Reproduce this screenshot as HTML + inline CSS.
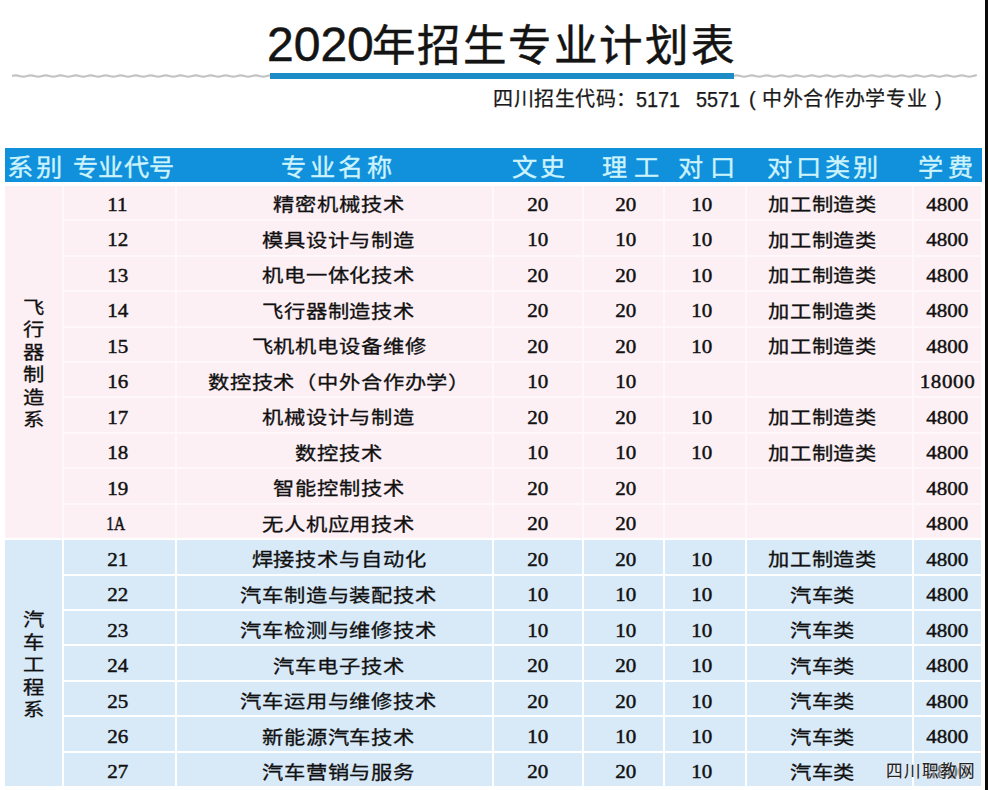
<!DOCTYPE html>
<html lang="zh-CN"><head><meta charset="utf-8"><title>2020年招生专业计划表</title>
<style>
html,body{margin:0;padding:0;overflow:hidden}
body{width:988px;height:790px;position:relative;overflow:hidden;background:#fff;font-family:"Liberation Serif",serif;color:#111}
.a{position:absolute}
.strip{left:984.5px;top:0;width:3.5px;height:790px;background:#0b0b0b}
.title{font-family:"Liberation Sans",sans-serif;font-size:45px;line-height:54px;color:#141414;white-space:nowrap}
.td{font-size:48px;-webkit-text-stroke:.5px #141414}
.tc{font-size:43.5px;letter-spacing:2.6px;-webkit-text-stroke:.5px #141414}
.gl{height:2px;top:75px;background:#c9c9c9}
.bl{left:270px;width:464px;top:73px;height:6px;background:#1c8bc6}
.sub{-webkit-text-stroke:.25px #1a1a1a;top:86px;height:26px;line-height:26px;font-family:"Liberation Sans",sans-serif;font-size:20px;color:#1a1a1a;white-space:nowrap}
.sd{font-size:21.2px;transform:scaleX(.937);transform-origin:0 50%;top:87px}
.hd{left:5px;top:148px;width:976.6px;height:33.5px;background:#1190dc}
.ht{top:151.3px;height:34px;line-height:34px;font-family:"Liberation Sans",sans-serif;font-size:24px;color:#cdf3fc;white-space:nowrap;transform:scaleX(1.05);transform-origin:0 50%;-webkit-text-stroke:.35px #cdf3fc}
.p{background:#fdf0f5}
.b{background:#d8e9f8}
.t{height:33px;line-height:33px;width:0;white-space:nowrap;display:flex;justify-content:center}
.t span{flex:none}
.n{font-size:19.3px}
.n span{transform:scaleX(1.09);-webkit-text-stroke:.45px #111}
.c{font-size:18.5px}
.c span{transform:scaleX(1.15);-webkit-text-stroke:.3px #111}
.v{left:14px;width:40px;text-align:center;font-size:17.8px;line-height:22.5px;transform:scaleX(1.2);-webkit-text-stroke:.3px #111}
.wm{left:886px;top:761px;font-size:16.6px;line-height:22px;color:#222;letter-spacing:.95px;-webkit-text-stroke:.15px #222;text-shadow:0 0 2px #fff,0 0 1px #fff;white-space:nowrap;font-family:"Liberation Serif",serif}
</style></head>
<body>
<div class="a title td" style="left:267px;top:18px">2020</div>
<div class="a title tc" style="left:371.5px;top:18.5px">年招生专业计划表</div>
<svg class="a" style="left:12px;top:73px" width="259" height="6" viewBox="0 0 259 6"><path d="M0 3 Q3.8 1.9 7.5 3 Q11.2 4.1 15.0 3 Q18.8 1.9 22.5 3 Q26.2 4.1 30.0 3 Q33.8 1.9 37.5 3 Q41.2 4.1 45.0 3 Q48.8 1.9 52.5 3 Q56.2 4.1 60.0 3 Q63.8 1.9 67.5 3 Q71.2 4.1 75.0 3 Q78.8 1.9 82.5 3 Q86.2 4.1 90.0 3 Q93.8 1.9 97.5 3 Q101.2 4.1 105.0 3 Q108.8 1.9 112.5 3 Q116.2 4.1 120.0 3 Q123.8 1.9 127.5 3 Q131.2 4.1 135.0 3 Q138.8 1.9 142.5 3 Q146.2 4.1 150.0 3 Q153.8 1.9 157.5 3 Q161.2 4.1 165.0 3 Q168.8 1.9 172.5 3 Q176.2 4.1 180.0 3 Q183.8 1.9 187.5 3 Q191.2 4.1 195.0 3 Q198.8 1.9 202.5 3 Q206.2 4.1 210.0 3 Q213.8 1.9 217.5 3 Q221.2 4.1 225.0 3 Q228.8 1.9 232.5 3 Q236.2 4.1 240.0 3 Q243.8 1.9 247.5 3 Q251.2 4.1 255.0 3 Q258.8 1.9 259.0 3" fill="none" stroke="#c3c3c3" stroke-width="2.2"/></svg>
<svg class="a" style="left:733px;top:73px" width="244" height="6" viewBox="0 0 244 6"><path d="M0 3 Q3.8 1.9 7.5 3 Q11.2 4.1 15.0 3 Q18.8 1.9 22.5 3 Q26.2 4.1 30.0 3 Q33.8 1.9 37.5 3 Q41.2 4.1 45.0 3 Q48.8 1.9 52.5 3 Q56.2 4.1 60.0 3 Q63.8 1.9 67.5 3 Q71.2 4.1 75.0 3 Q78.8 1.9 82.5 3 Q86.2 4.1 90.0 3 Q93.8 1.9 97.5 3 Q101.2 4.1 105.0 3 Q108.8 1.9 112.5 3 Q116.2 4.1 120.0 3 Q123.8 1.9 127.5 3 Q131.2 4.1 135.0 3 Q138.8 1.9 142.5 3 Q146.2 4.1 150.0 3 Q153.8 1.9 157.5 3 Q161.2 4.1 165.0 3 Q168.8 1.9 172.5 3 Q176.2 4.1 180.0 3 Q183.8 1.9 187.5 3 Q191.2 4.1 195.0 3 Q198.8 1.9 202.5 3 Q206.2 4.1 210.0 3 Q213.8 1.9 217.5 3 Q221.2 4.1 225.0 3 Q228.8 1.9 232.5 3 Q236.2 4.1 240.0 3 Q243.8 1.9 244.0 3" fill="none" stroke="#c3c3c3" stroke-width="2.2"/></svg>
<div class="a bl"></div>
<div class="a sub" style="left:493px;letter-spacing:.55px">四川招生代码：</div>
<div class="a sub sd" style="left:636px">5171</div>
<div class="a sub sd" style="left:696px">5571</div>
<div class="a sub" style="left:749px">(</div>
<div class="a sub" style="left:762px;letter-spacing:.7px">中外合作办学专业</div>
<div class="a sub" style="left:935px">)</div>
<div class="a hd"></div>
<div class="a" style="left:5px;width:976px;top:186px;height:352.10px;background:#fff8fa"></div>
<div class="a ht" style="left:7.0px;letter-spacing:2.1px;transform:scaleX(1.1)">系别</div>
<div class="a ht" style="left:73.45px;letter-spacing:0.22px">专业代号</div>
<div class="a ht" style="left:280.95px;letter-spacing:3.16px">专业名称</div>
<div class="a ht" style="left:511.55px;letter-spacing:2.3px">文史</div>
<div class="a ht" style="left:601.65px;letter-spacing:6.1px">理工</div>
<div class="a ht" style="left:678.05px;letter-spacing:6.1px">对口</div>
<div class="a ht" style="left:766.85px;letter-spacing:3.43px">对口类别</div>
<div class="a ht" style="left:917.55px;letter-spacing:4.1px">学费</div>
<div class="a p" style="left:5px;width:57px;top:186px;height:352.10px"></div>
<div class="a b" style="left:5px;width:57px;top:540.10px;height:246.01px"></div>
<!-- row 11 -->
<div class="a p" style="left:64px;width:111px;top:186.00px;height:33.23px"></div>
<div class="a p" style="left:177px;width:315px;top:186.00px;height:33.23px"></div>
<div class="a p" style="left:494px;width:88px;top:186.00px;height:33.23px"></div>
<div class="a p" style="left:584px;width:79px;top:186.00px;height:33.23px"></div>
<div class="a p" style="left:665px;width:80px;top:186.00px;height:33.23px"></div>
<div class="a p" style="left:747px;width:165px;top:186.00px;height:33.23px"></div>
<div class="a p" style="left:914px;width:67.39999999999998px;top:186.00px;height:33.23px"></div>
<div class="a t n" style="left:117.5px;top:187.80px"><span>11</span></div>
<div class="a t c" style="left:338.5px;top:189.30px"><span>精密机械技术</span></div>
<div class="a t n" style="left:538px;top:187.80px"><span>20</span></div>
<div class="a t n" style="left:626px;top:187.80px"><span>20</span></div>
<div class="a t n" style="left:702px;top:187.80px"><span>10</span></div>
<div class="a t c" style="left:822.5px;top:189.30px"><span>加工制造类</span></div>
<div class="a t n" style="left:947.5px;top:187.80px"><span>4800</span></div>
<!-- row 12 -->
<div class="a p" style="left:64px;width:111px;top:221.23px;height:33.43px"></div>
<div class="a p" style="left:177px;width:315px;top:221.23px;height:33.43px"></div>
<div class="a p" style="left:494px;width:88px;top:221.23px;height:33.43px"></div>
<div class="a p" style="left:584px;width:79px;top:221.23px;height:33.43px"></div>
<div class="a p" style="left:665px;width:80px;top:221.23px;height:33.43px"></div>
<div class="a p" style="left:747px;width:165px;top:221.23px;height:33.43px"></div>
<div class="a p" style="left:914px;width:67.39999999999998px;top:221.23px;height:33.43px"></div>
<div class="a t n" style="left:117.5px;top:223.28px"><span>12</span></div>
<div class="a t c" style="left:338.5px;top:224.78px"><span>模具设计与制造</span></div>
<div class="a t n" style="left:538px;top:223.28px"><span>10</span></div>
<div class="a t n" style="left:626px;top:223.28px"><span>10</span></div>
<div class="a t n" style="left:702px;top:223.28px"><span>10</span></div>
<div class="a t c" style="left:822.5px;top:224.78px"><span>加工制造类</span></div>
<div class="a t n" style="left:947.5px;top:223.28px"><span>4800</span></div>
<!-- row 13 -->
<div class="a p" style="left:64px;width:111px;top:256.66px;height:33.43px"></div>
<div class="a p" style="left:177px;width:315px;top:256.66px;height:33.43px"></div>
<div class="a p" style="left:494px;width:88px;top:256.66px;height:33.43px"></div>
<div class="a p" style="left:584px;width:79px;top:256.66px;height:33.43px"></div>
<div class="a p" style="left:665px;width:80px;top:256.66px;height:33.43px"></div>
<div class="a p" style="left:747px;width:165px;top:256.66px;height:33.43px"></div>
<div class="a p" style="left:914px;width:67.39999999999998px;top:256.66px;height:33.43px"></div>
<div class="a t n" style="left:117.5px;top:258.76px"><span>13</span></div>
<div class="a t c" style="left:338.5px;top:260.26px"><span>机电一体化技术</span></div>
<div class="a t n" style="left:538px;top:258.76px"><span>20</span></div>
<div class="a t n" style="left:626px;top:258.76px"><span>20</span></div>
<div class="a t n" style="left:702px;top:258.76px"><span>10</span></div>
<div class="a t c" style="left:822.5px;top:260.26px"><span>加工制造类</span></div>
<div class="a t n" style="left:947.5px;top:258.76px"><span>4800</span></div>
<!-- row 14 -->
<div class="a p" style="left:64px;width:111px;top:292.09px;height:33.43px"></div>
<div class="a p" style="left:177px;width:315px;top:292.09px;height:33.43px"></div>
<div class="a p" style="left:494px;width:88px;top:292.09px;height:33.43px"></div>
<div class="a p" style="left:584px;width:79px;top:292.09px;height:33.43px"></div>
<div class="a p" style="left:665px;width:80px;top:292.09px;height:33.43px"></div>
<div class="a p" style="left:747px;width:165px;top:292.09px;height:33.43px"></div>
<div class="a p" style="left:914px;width:67.39999999999998px;top:292.09px;height:33.43px"></div>
<div class="a t n" style="left:117.5px;top:294.24px"><span>14</span></div>
<div class="a t c" style="left:338.5px;top:295.74px"><span>飞行器制造技术</span></div>
<div class="a t n" style="left:538px;top:294.24px"><span>20</span></div>
<div class="a t n" style="left:626px;top:294.24px"><span>20</span></div>
<div class="a t n" style="left:702px;top:294.24px"><span>10</span></div>
<div class="a t c" style="left:822.5px;top:295.74px"><span>加工制造类</span></div>
<div class="a t n" style="left:947.5px;top:294.24px"><span>4800</span></div>
<!-- row 15 -->
<div class="a p" style="left:64px;width:111px;top:327.52px;height:33.43px"></div>
<div class="a p" style="left:177px;width:315px;top:327.52px;height:33.43px"></div>
<div class="a p" style="left:494px;width:88px;top:327.52px;height:33.43px"></div>
<div class="a p" style="left:584px;width:79px;top:327.52px;height:33.43px"></div>
<div class="a p" style="left:665px;width:80px;top:327.52px;height:33.43px"></div>
<div class="a p" style="left:747px;width:165px;top:327.52px;height:33.43px"></div>
<div class="a p" style="left:914px;width:67.39999999999998px;top:327.52px;height:33.43px"></div>
<div class="a t n" style="left:117.5px;top:329.72px"><span>15</span></div>
<div class="a t c" style="left:338.5px;top:331.22px"><span>飞机机电设备维修</span></div>
<div class="a t n" style="left:538px;top:329.72px"><span>20</span></div>
<div class="a t n" style="left:626px;top:329.72px"><span>20</span></div>
<div class="a t n" style="left:702px;top:329.72px"><span>10</span></div>
<div class="a t c" style="left:822.5px;top:331.22px"><span>加工制造类</span></div>
<div class="a t n" style="left:947.5px;top:329.72px"><span>4800</span></div>
<!-- row 16 -->
<div class="a p" style="left:64px;width:111px;top:362.95px;height:33.43px"></div>
<div class="a p" style="left:177px;width:315px;top:362.95px;height:33.43px"></div>
<div class="a p" style="left:494px;width:88px;top:362.95px;height:33.43px"></div>
<div class="a p" style="left:584px;width:79px;top:362.95px;height:33.43px"></div>
<div class="a p" style="left:665px;width:80px;top:362.95px;height:33.43px"></div>
<div class="a p" style="left:747px;width:165px;top:362.95px;height:33.43px"></div>
<div class="a p" style="left:914px;width:67.39999999999998px;top:362.95px;height:33.43px"></div>
<div class="a t n" style="left:117.5px;top:365.20px"><span>16</span></div>
<div class="a t c" style="left:338.5px;top:366.70px"><span>数控技术（中外合作办学）</span></div>
<div class="a t n" style="left:538px;top:365.20px"><span>10</span></div>
<div class="a t n" style="left:626px;top:365.20px"><span>10</span></div>
<div class="a t n" style="left:947.5px;letter-spacing:.55px;top:365.20px"><span>18000</span></div>
<!-- row 17 -->
<div class="a p" style="left:64px;width:111px;top:398.38px;height:33.43px"></div>
<div class="a p" style="left:177px;width:315px;top:398.38px;height:33.43px"></div>
<div class="a p" style="left:494px;width:88px;top:398.38px;height:33.43px"></div>
<div class="a p" style="left:584px;width:79px;top:398.38px;height:33.43px"></div>
<div class="a p" style="left:665px;width:80px;top:398.38px;height:33.43px"></div>
<div class="a p" style="left:747px;width:165px;top:398.38px;height:33.43px"></div>
<div class="a p" style="left:914px;width:67.39999999999998px;top:398.38px;height:33.43px"></div>
<div class="a t n" style="left:117.5px;top:400.68px"><span>17</span></div>
<div class="a t c" style="left:338.5px;top:402.18px"><span>机械设计与制造</span></div>
<div class="a t n" style="left:538px;top:400.68px"><span>20</span></div>
<div class="a t n" style="left:626px;top:400.68px"><span>20</span></div>
<div class="a t n" style="left:702px;top:400.68px"><span>10</span></div>
<div class="a t c" style="left:822.5px;top:402.18px"><span>加工制造类</span></div>
<div class="a t n" style="left:947.5px;top:400.68px"><span>4800</span></div>
<!-- row 18 -->
<div class="a p" style="left:64px;width:111px;top:433.81px;height:33.43px"></div>
<div class="a p" style="left:177px;width:315px;top:433.81px;height:33.43px"></div>
<div class="a p" style="left:494px;width:88px;top:433.81px;height:33.43px"></div>
<div class="a p" style="left:584px;width:79px;top:433.81px;height:33.43px"></div>
<div class="a p" style="left:665px;width:80px;top:433.81px;height:33.43px"></div>
<div class="a p" style="left:747px;width:165px;top:433.81px;height:33.43px"></div>
<div class="a p" style="left:914px;width:67.39999999999998px;top:433.81px;height:33.43px"></div>
<div class="a t n" style="left:117.5px;top:436.16px"><span>18</span></div>
<div class="a t c" style="left:338.5px;top:437.66px"><span>数控技术</span></div>
<div class="a t n" style="left:538px;top:436.16px"><span>10</span></div>
<div class="a t n" style="left:626px;top:436.16px"><span>10</span></div>
<div class="a t n" style="left:702px;top:436.16px"><span>10</span></div>
<div class="a t c" style="left:822.5px;top:437.66px"><span>加工制造类</span></div>
<div class="a t n" style="left:947.5px;top:436.16px"><span>4800</span></div>
<!-- row 19 -->
<div class="a p" style="left:64px;width:111px;top:469.24px;height:33.43px"></div>
<div class="a p" style="left:177px;width:315px;top:469.24px;height:33.43px"></div>
<div class="a p" style="left:494px;width:88px;top:469.24px;height:33.43px"></div>
<div class="a p" style="left:584px;width:79px;top:469.24px;height:33.43px"></div>
<div class="a p" style="left:665px;width:80px;top:469.24px;height:33.43px"></div>
<div class="a p" style="left:747px;width:165px;top:469.24px;height:33.43px"></div>
<div class="a p" style="left:914px;width:67.39999999999998px;top:469.24px;height:33.43px"></div>
<div class="a t n" style="left:117.5px;top:471.64px"><span>19</span></div>
<div class="a t c" style="left:338.5px;top:473.14px"><span>智能控制技术</span></div>
<div class="a t n" style="left:538px;top:471.64px"><span>20</span></div>
<div class="a t n" style="left:626px;top:471.64px"><span>20</span></div>
<div class="a t n" style="left:947.5px;top:471.64px"><span>4800</span></div>
<!-- row 1A -->
<div class="a p" style="left:64px;width:111px;top:504.67px;height:33.43px"></div>
<div class="a p" style="left:177px;width:315px;top:504.67px;height:33.43px"></div>
<div class="a p" style="left:494px;width:88px;top:504.67px;height:33.43px"></div>
<div class="a p" style="left:584px;width:79px;top:504.67px;height:33.43px"></div>
<div class="a p" style="left:665px;width:80px;top:504.67px;height:33.43px"></div>
<div class="a p" style="left:747px;width:165px;top:504.67px;height:33.43px"></div>
<div class="a p" style="left:914px;width:67.39999999999998px;top:504.67px;height:33.43px"></div>
<div class="a t n" style="left:115.9px;top:507.12px"><span style="transform:scaleX(.8)">1A</span></div>
<div class="a t c" style="left:338.5px;top:508.62px"><span>无人机应用技术</span></div>
<div class="a t n" style="left:538px;top:507.12px"><span>20</span></div>
<div class="a t n" style="left:626px;top:507.12px"><span>20</span></div>
<div class="a t n" style="left:947.5px;top:507.12px"><span>4800</span></div>
<!-- row 21 -->
<div class="a b" style="left:64px;width:111px;top:540.10px;height:33.43px"></div>
<div class="a b" style="left:177px;width:315px;top:540.10px;height:33.43px"></div>
<div class="a b" style="left:494px;width:88px;top:540.10px;height:33.43px"></div>
<div class="a b" style="left:584px;width:79px;top:540.10px;height:33.43px"></div>
<div class="a b" style="left:665px;width:80px;top:540.10px;height:33.43px"></div>
<div class="a b" style="left:747px;width:165px;top:540.10px;height:33.43px"></div>
<div class="a b" style="left:914px;width:67.39999999999998px;top:540.10px;height:33.43px"></div>
<div class="a t n" style="left:117.5px;top:542.60px"><span>21</span></div>
<div class="a t c" style="left:338.5px;top:544.10px"><span>焊接技术与自动化</span></div>
<div class="a t n" style="left:538px;top:542.60px"><span>20</span></div>
<div class="a t n" style="left:626px;top:542.60px"><span>20</span></div>
<div class="a t n" style="left:702px;top:542.60px"><span>10</span></div>
<div class="a t c" style="left:822.5px;top:544.10px"><span>加工制造类</span></div>
<div class="a t n" style="left:947.5px;top:542.60px"><span>4800</span></div>
<!-- row 22 -->
<div class="a b" style="left:64px;width:111px;top:575.53px;height:33.43px"></div>
<div class="a b" style="left:177px;width:315px;top:575.53px;height:33.43px"></div>
<div class="a b" style="left:494px;width:88px;top:575.53px;height:33.43px"></div>
<div class="a b" style="left:584px;width:79px;top:575.53px;height:33.43px"></div>
<div class="a b" style="left:665px;width:80px;top:575.53px;height:33.43px"></div>
<div class="a b" style="left:747px;width:165px;top:575.53px;height:33.43px"></div>
<div class="a b" style="left:914px;width:67.39999999999998px;top:575.53px;height:33.43px"></div>
<div class="a t n" style="left:117.5px;top:578.08px"><span>22</span></div>
<div class="a t c" style="left:338.5px;top:579.58px"><span>汽车制造与装配技术</span></div>
<div class="a t n" style="left:538px;top:578.08px"><span>10</span></div>
<div class="a t n" style="left:626px;top:578.08px"><span>10</span></div>
<div class="a t n" style="left:702px;top:578.08px"><span>10</span></div>
<div class="a t c" style="left:822.5px;top:579.58px"><span>汽车类</span></div>
<div class="a t n" style="left:947.5px;top:578.08px"><span>4800</span></div>
<!-- row 23 -->
<div class="a b" style="left:64px;width:111px;top:610.96px;height:33.43px"></div>
<div class="a b" style="left:177px;width:315px;top:610.96px;height:33.43px"></div>
<div class="a b" style="left:494px;width:88px;top:610.96px;height:33.43px"></div>
<div class="a b" style="left:584px;width:79px;top:610.96px;height:33.43px"></div>
<div class="a b" style="left:665px;width:80px;top:610.96px;height:33.43px"></div>
<div class="a b" style="left:747px;width:165px;top:610.96px;height:33.43px"></div>
<div class="a b" style="left:914px;width:67.39999999999998px;top:610.96px;height:33.43px"></div>
<div class="a t n" style="left:117.5px;top:613.56px"><span>23</span></div>
<div class="a t c" style="left:338.5px;top:615.06px"><span>汽车检测与维修技术</span></div>
<div class="a t n" style="left:538px;top:613.56px"><span>10</span></div>
<div class="a t n" style="left:626px;top:613.56px"><span>10</span></div>
<div class="a t n" style="left:702px;top:613.56px"><span>10</span></div>
<div class="a t c" style="left:822.5px;top:615.06px"><span>汽车类</span></div>
<div class="a t n" style="left:947.5px;top:613.56px"><span>4800</span></div>
<!-- row 24 -->
<div class="a b" style="left:64px;width:111px;top:646.39px;height:33.43px"></div>
<div class="a b" style="left:177px;width:315px;top:646.39px;height:33.43px"></div>
<div class="a b" style="left:494px;width:88px;top:646.39px;height:33.43px"></div>
<div class="a b" style="left:584px;width:79px;top:646.39px;height:33.43px"></div>
<div class="a b" style="left:665px;width:80px;top:646.39px;height:33.43px"></div>
<div class="a b" style="left:747px;width:165px;top:646.39px;height:33.43px"></div>
<div class="a b" style="left:914px;width:67.39999999999998px;top:646.39px;height:33.43px"></div>
<div class="a t n" style="left:117.5px;top:649.04px"><span>24</span></div>
<div class="a t c" style="left:338.5px;top:650.54px"><span>汽车电子技术</span></div>
<div class="a t n" style="left:538px;top:649.04px"><span>20</span></div>
<div class="a t n" style="left:626px;top:649.04px"><span>20</span></div>
<div class="a t n" style="left:702px;top:649.04px"><span>10</span></div>
<div class="a t c" style="left:822.5px;top:650.54px"><span>汽车类</span></div>
<div class="a t n" style="left:947.5px;top:649.04px"><span>4800</span></div>
<!-- row 25 -->
<div class="a b" style="left:64px;width:111px;top:681.82px;height:33.43px"></div>
<div class="a b" style="left:177px;width:315px;top:681.82px;height:33.43px"></div>
<div class="a b" style="left:494px;width:88px;top:681.82px;height:33.43px"></div>
<div class="a b" style="left:584px;width:79px;top:681.82px;height:33.43px"></div>
<div class="a b" style="left:665px;width:80px;top:681.82px;height:33.43px"></div>
<div class="a b" style="left:747px;width:165px;top:681.82px;height:33.43px"></div>
<div class="a b" style="left:914px;width:67.39999999999998px;top:681.82px;height:33.43px"></div>
<div class="a t n" style="left:117.5px;top:684.52px"><span>25</span></div>
<div class="a t c" style="left:338.5px;top:686.02px"><span>汽车运用与维修技术</span></div>
<div class="a t n" style="left:538px;top:684.52px"><span>20</span></div>
<div class="a t n" style="left:626px;top:684.52px"><span>20</span></div>
<div class="a t n" style="left:702px;top:684.52px"><span>10</span></div>
<div class="a t c" style="left:822.5px;top:686.02px"><span>汽车类</span></div>
<div class="a t n" style="left:947.5px;top:684.52px"><span>4800</span></div>
<!-- row 26 -->
<div class="a b" style="left:64px;width:111px;top:717.25px;height:33.43px"></div>
<div class="a b" style="left:177px;width:315px;top:717.25px;height:33.43px"></div>
<div class="a b" style="left:494px;width:88px;top:717.25px;height:33.43px"></div>
<div class="a b" style="left:584px;width:79px;top:717.25px;height:33.43px"></div>
<div class="a b" style="left:665px;width:80px;top:717.25px;height:33.43px"></div>
<div class="a b" style="left:747px;width:165px;top:717.25px;height:33.43px"></div>
<div class="a b" style="left:914px;width:67.39999999999998px;top:717.25px;height:33.43px"></div>
<div class="a t n" style="left:117.5px;top:720.00px"><span>26</span></div>
<div class="a t c" style="left:338.5px;top:721.50px"><span>新能源汽车技术</span></div>
<div class="a t n" style="left:538px;top:720.00px"><span>10</span></div>
<div class="a t n" style="left:626px;top:720.00px"><span>10</span></div>
<div class="a t n" style="left:702px;top:720.00px"><span>10</span></div>
<div class="a t c" style="left:822.5px;top:721.50px"><span>汽车类</span></div>
<div class="a t n" style="left:947.5px;top:720.00px"><span>4800</span></div>
<!-- row 27 -->
<div class="a b" style="left:64px;width:111px;top:752.68px;height:33.43px"></div>
<div class="a b" style="left:177px;width:315px;top:752.68px;height:33.43px"></div>
<div class="a b" style="left:494px;width:88px;top:752.68px;height:33.43px"></div>
<div class="a b" style="left:584px;width:79px;top:752.68px;height:33.43px"></div>
<div class="a b" style="left:665px;width:80px;top:752.68px;height:33.43px"></div>
<div class="a b" style="left:747px;width:165px;top:752.68px;height:33.43px"></div>
<div class="a b" style="left:914px;width:67.39999999999998px;top:752.68px;height:33.43px"></div>
<div class="a t n" style="left:117.5px;top:755.48px"><span>27</span></div>
<div class="a t c" style="left:338.5px;top:756.98px"><span>汽车营销与服务</span></div>
<div class="a t n" style="left:538px;top:755.48px"><span>20</span></div>
<div class="a t n" style="left:626px;top:755.48px"><span>20</span></div>
<div class="a t n" style="left:702px;top:755.48px"><span>10</span></div>
<div class="a t c" style="left:822.5px;top:756.98px"><span>汽车类</span></div>
<div class="a t n" style="left:947.5px;opacity:.55;top:755.48px"><span>4800</span></div>
<div class="a v" style="top:296.75px">飞<br>行<br>器<br>制<br>造<br>系</div>
<div class="a v" style="top:609.15px">汽<br>车<br>工<br>程<br>系</div>
<div class="a wm">四川职教网</div>
<div class="a strip"></div>
</body></html>
